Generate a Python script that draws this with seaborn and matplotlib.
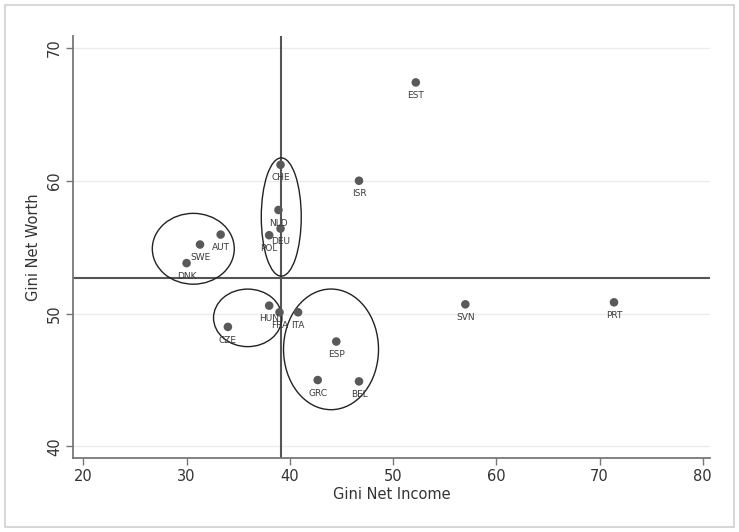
import matplotlib
matplotlib.use("Agg")
import matplotlib.pyplot as plt
import seaborn as sns
import pandas as pd
from matplotlib.patches import Ellipse, Rectangle

countries = ["EST", "ISR", "CHE", "NLD", "DEU", "POL", "AUT", "SWE", "DNK",
             "HUN", "FRA", "ITA", "CZE", "ESP", "GRC", "BEL", "SVN", "PRT"]
gini_income = [52.2, 46.7, 39.1, 38.9, 39.1, 38.0, 33.3, 31.3, 30.0,
               38.0, 39.0, 40.8, 34.0, 44.5, 42.7, 46.7, 57.0, 71.4]
gini_worth = [67.4, 60.0, 61.2, 57.8, 56.4, 55.9, 55.95, 55.2, 53.8,
              50.6, 50.1, 50.1, 49.0, 47.9, 45.0, 44.9, 50.7, 50.85]

mean_income = 39.15
mean_worth = 52.7

# ellipses: center x, center y, width, height (data units)
ell_cx = [30.65, 39.17, 35.92, 43.99]
ell_cy = [54.88, 57.27, 49.68, 47.31]
ell_w = [7.94, 3.87, 6.62, 9.2]
ell_h = [5.33, 8.9, 4.33, 9.08]

x_ticks = [20, 30, 40, 50, 60, 70, 80]
y_ticks = [40, 50, 60, 70]

df = pd.DataFrame({"country": countries, "income": gini_income, "worth": gini_worth})

sns.set_theme(style="white")
plt.rcParams['font.family'] = ['DejaVu Sans']

fig = plt.figure(figsize=(7.39, 5.32), dpi=100)
ax = fig.add_axes([0.0988, 0.139, 0.862, 0.793])

fig.patches.append(Rectangle((5/739, 5/532), 729/739, 522/532, transform=fig.transFigure,
                             fill=False, edgecolor="#cfcfcf", linewidth=1.2))

for yt in y_ticks:
    ax.axhline(yt, color="#ececec", linewidth=1.0, zorder=0)

ax.axhline(mean_worth, color="#555555", linewidth=1.5, zorder=1)
ax.axvline(mean_income, color="#555555", linewidth=1.5, zorder=1)

sns.scatterplot(data=df, x="income", y="worth", ax=ax, color="#595959", s=38,
                edgecolor="none", zorder=3, legend=False)

for c, xv, yv in zip(countries, gini_income, gini_worth):
    ax.annotate(c, (xv, yv), xytext=(0, -9.5), textcoords="offset points",
                ha="center", va="center", fontsize=6.5, color="#3a3a3a", zorder=4)

for cx, cy, w, h in zip(ell_cx, ell_cy, ell_w, ell_h):
    ax.add_patch(Ellipse((cx, cy), w, h, fill=False, edgecolor="#222222", linewidth=1.0, zorder=2))

ax.set_xlim(19.0, 80.7)
ax.set_ylim(39.13, 70.88)
ax.set_xticks(x_ticks)
ax.set_yticks(y_ticks)
ax.set_yticklabels([str(t) for t in y_ticks], rotation=90, va="center")
ax.tick_params(axis="both", direction="out", length=5, width=1, color="#777777",
               labelsize=10.5, labelcolor="#333333", bottom=True, left=True, pad=3)

for side in ["top", "right"]:
    ax.spines[side].set_visible(False)
for side in ["left", "bottom"]:
    ax.spines[side].set_color("#777777")
    ax.spines[side].set_linewidth(1.3)

ax.set_xlabel("Gini Net Income", fontsize=10.5, color="#333333", labelpad=2)
ax.set_ylabel("Gini Net Worth", fontsize=10.5, color="#333333", labelpad=4)

fig.savefig("out.png", dpi=100)
